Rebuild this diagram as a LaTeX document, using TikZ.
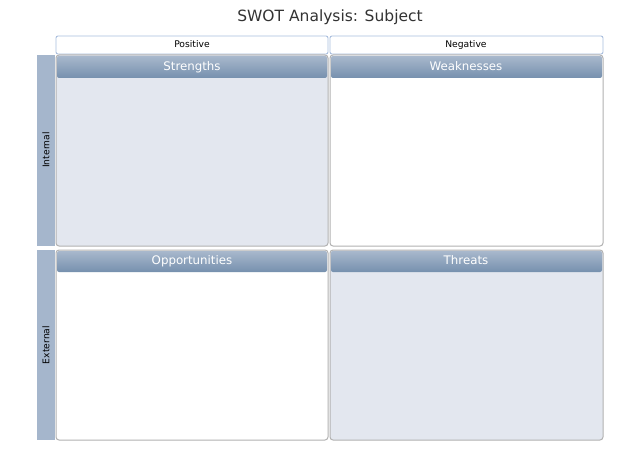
\documentclass[tikz,border=0pt]{standalone}
\usepackage{fontspec}
\setmainfont{DejaVu Sans}
\usetikzlibrary{calc}

\definecolor{barblue}{HTML}{A5B6CC}
\definecolor{headtop}{HTML}{A8B8CC}
\definecolor{headbot}{HTML}{7690AE}
\definecolor{paneshade}{HTML}{E3E7EF}
\definecolor{paneline}{HTML}{B2B2B2}
\definecolor{tabline}{HTML}{A9BEDD}

\tikzset{
  pane/.style={draw=paneline, line width=1pt, rounded corners=3pt},
  panehead/.style={top color=headtop, bottom color=headbot, rounded corners=2pt},
  tab/.style={draw=tabline, fill=white, line width=0.9pt, rounded corners=2pt},
  sidebar/.style={fill=barblue},
  titletext/.style={font=\fontsize{15.5}{18}\selectfont, text=black!80},
  headtext/.style={font=\fontsize{11.8}{14}\selectfont, text=white, text height=9pt, text depth=2.5pt},
  tabtext/.style={font=\fontsize{9.2}{11}\selectfont, text=black, text height=7pt, text depth=2pt},
  rowtext/.style={font=\fontsize{9.2}{11}\selectfont, text=black, rotate=90}
}

\begin{document}
\begin{tikzpicture}[x=1pt,y=-1pt]
        \useasboundingbox (0,0) rectangle (640,452);
        \fill[white] (0,0) rectangle (640,452);
        % title
        \node[titletext] (title) at (330,17) {SWOT Analysis: Subject};
        % column tabs
        \draw[tab] (56,36) rectangle (328,54);
        \node[tabtext] (positive) at (192,45) {Positive};
        \draw[tab] (330,36) rectangle (603,54);
        \node[tabtext] (negative) at (466,45) {Negative};
        % row bars
        \fill[sidebar] (37,55) rectangle (55,246);
        \node[rowtext] (internal) at (46,150) {Internal};
        \fill[sidebar] (37,250) rectangle (55,440);
        \node[rowtext] (external) at (46,345) {External};
        % quadrants, top row
        \draw[pane,fill=paneshade] (56,55) rectangle (328,246);
        \path[panehead] (57,56) rectangle (327,78);
        \node[headtext] (strengths) at (192,67) {Strengths};
        \draw[pane,fill=white] (330,55) rectangle (603,246);
        \path[panehead] (331,56) rectangle (602,78);
        \node[headtext] (weaknesses) at (466,67) {Weaknesses};
        % quadrants, bottom row
        \draw[pane,fill=white] (56,250) rectangle (328,440);
        \path[panehead] (57,251) rectangle (327,272);
        \node[headtext] (opportunities) at (192,261) {Opportunities};
        \draw[pane,fill=paneshade] (330,250) rectangle (603,440);
        \path[panehead] (331,251) rectangle (602,272);
        \node[headtext] (threats) at (466,261) {Threats};
\end{tikzpicture}
\end{document}
